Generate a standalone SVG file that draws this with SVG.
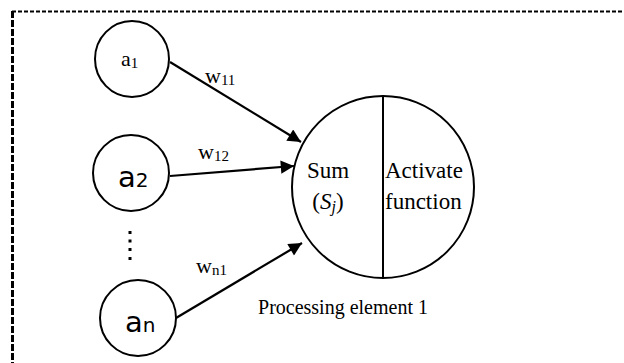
<svg xmlns="http://www.w3.org/2000/svg" width="624" height="363" viewBox="0 0 624 363">
<defs>
<marker id="arr" viewBox="0 0 10 10" refX="10" refY="5" markerWidth="7" markerHeight="6" markerUnits="strokeWidth" orient="auto">
<path d="M0,0 L10,5 L0,10 z" fill="#000"/>
</marker>
</defs>
<style>
.node{fill:#fff;stroke:#000;stroke-width:2}
.conn{stroke:#000;stroke-width:2.2;fill:none;marker-end:url(#arr)}
.serif{font-family:"Liberation Serif","Times New Roman",serif;fill:#000}
.sans{font-family:"DejaVu Sans",Verdana,sans-serif;fill:#000}
</style>
<rect width="624" height="363" fill="#fff"/>
<g id="frame">
<line x1="12" y1="11.5" x2="624" y2="11.5" stroke="#000" stroke-width="2" stroke-dasharray="4,2"/>
<line x1="12.5" y1="11" x2="12.5" y2="363" stroke="#000" stroke-width="3" stroke-dasharray="7,2"/>
</g>
<g id="connectors">
<line class="conn" x1="170" y1="62" x2="301" y2="142"/>
<line class="conn" x1="170" y1="176" x2="294" y2="166"/>
<line class="conn" x1="176" y1="318" x2="302" y2="243"/>
</g>
<g id="a1">
<ellipse class="node" cx="132" cy="59" rx="37" ry="38"/>
<text class="serif" x="121" y="66" font-size="22">a<tspan font-size="15" dy="2">1</tspan></text>
</g>
<g id="a2">
<circle class="node" cx="131" cy="173" r="38"/>
<text class="sans" x="118" y="187" font-size="29">a<tspan font-size="20">2</tspan></text>
</g>
<g id="dots">
<rect x="128.5" y="231" width="3" height="3"/>
<rect x="128.5" y="239.5" width="3" height="3"/>
<rect x="128.5" y="248" width="3" height="3"/>
<rect x="128.5" y="257" width="3" height="3"/>
</g>
<g id="an">
<circle class="node" cx="138" cy="318" r="38"/>
<text class="sans" x="125" y="332" font-size="29">a<tspan font-size="20">n</tspan></text>
</g>
<g id="labels">
<text class="serif" x="205" y="83" font-size="22">w<tspan font-size="15" dy="2">11</tspan></text>
<text class="serif" x="198" y="159" font-size="22">w<tspan font-size="15" dy="2">12</tspan></text>
<text class="serif" x="196" y="273" font-size="22">w<tspan font-size="15" dy="2">n1</tspan></text>
</g>
<g id="pe">
<circle class="node" cx="383" cy="187" r="91"/>
<line x1="383" y1="96" x2="383" y2="278" stroke="#000" stroke-width="2"/>
<text class="serif" x="328" y="178" font-size="23" text-anchor="middle">Sum</text>
<text class="serif" x="328" y="209" font-size="23" text-anchor="middle">(<tspan font-style="italic">S<tspan font-size="16" dy="3">j</tspan></tspan><tspan dy="-3">)</tspan></text>
<text class="serif" x="385" y="178" font-size="23">Activate</text>
<text class="serif" x="385" y="209" font-size="23">function</text>
<text class="serif" x="343" y="314" font-size="20" text-anchor="middle">Processing element 1</text>
</g>
</svg>
